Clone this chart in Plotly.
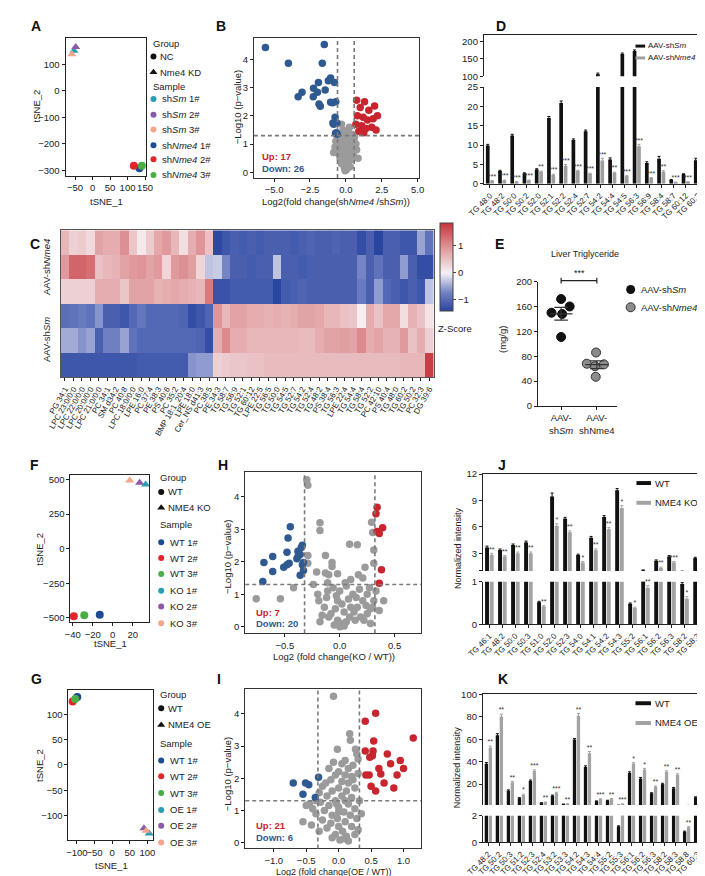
import plotly.graph_objects as go

W, H = 705, 876
FONT = "Liberation Sans, Arial, Helvetica, sans-serif"
INK = "#222222"

TEAL, PURPLE, SALMON = "#2a9db3", "#8a5aa6", "#f4a68c"
NAVY, RED, GREEN = "#1f4b93", "#e3242b", "#4aae47"
VBLUE, VRED, VGREY = "#2f5a91", "#c9252f", "#9b9b9b"

# ---------------- data ----------------
# A  (t-SNE, Nme4 knock-down)
a_samples = ["sh<i>Sm</i> 1#", "sh<i>Sm</i> 2#", "sh<i>Sm</i> 3#",
             "sh<i>Nme4</i> 1#", "sh<i>Nme4</i> 2#", "sh<i>Nme4</i> 3#"]
a_tsne1 = [-53, -48, -59, 134, 118, 141]
a_tsne2 = [151, 165, 138, -292, -283, -283]

# F  (t-SNE, NME4 KO)
f_samples = ["WT 1#", "WT 2#", "WT 3#", "KO 1#", "KO 2#", "KO 3#"]
f_tsne1 = [-13, -39, -28.5, 33, 27, 17]
f_tsne2 = [-476, -488, -481, 464, 476, 493]

# G  (t-SNE, NME4 OE)
g_samples = ["WT 1#", "WT 2#", "WT 3#", "OE 1#", "OE 2#", "OE 3#"]
g_tsne1 = [-99, -112, -105, 105, 90, 96]
g_tsne2 = [134, 125, 130, -135, -125, -130]

# B volcano (log2FC, -log10 p)
b_down = [(-5.6, 4.42), (-4.0, 3.86), (-1.5, 4.53), (-1.64, 3.86), (-3.05, 2.84), (-3.32, 2.68),
          (-2.25, 2.98), (-1.91, 3.18), (-1.98, 2.84), (-2.27, 2.68), (-1.87, 2.42), (-1.78, 2.34),
          (-1.44, 2.92), (-1.22, 3.24), (-1.06, 3.34), (-0.79, 3.18), (-1.06, 2.48), (-0.93, 2.46),
          (-0.7, 2.5), (-0.75, 1.95), (-0.9, 1.75), (-0.85, 1.7), (-0.65, 1.4), (-0.6, 1.35),
          (-0.72, 1.38), (-0.62, 1.75)]
b_up = [(0.75, 2.55), (1.0, 2.3), (1.3, 2.5), (1.6, 2.2), (2.0, 2.35), (0.8, 2.0), (1.2, 1.95),
        (1.5, 1.85), (1.9, 1.9), (2.2, 2.0), (0.7, 1.7), (1.1, 1.65), (1.4, 1.55), (1.8, 1.6),
        (0.9, 1.45), (1.25, 1.4), (2.1, 1.5)]
b_ns = [(-0.05, 0.05), (0.05, 0.1), (-0.1, 0.15), (0.1, 0.2), (0.0, 0.25), (-0.15, 0.3), (0.15, 0.35),
        (-0.2, 0.4), (0.2, 0.45), (-0.25, 0.5), (0.25, 0.55), (-0.3, 0.6), (0.3, 0.65), (-0.35, 0.7),
        (0.35, 0.75), (-0.4, 0.8), (0.4, 0.85), (-0.45, 0.9), (0.45, 0.95), (-0.5, 1.0), (0.5, 1.05),
        (-0.55, 1.1), (0.55, 1.15), (-0.6, 1.2), (0.6, 1.25), (-0.1, 0.6), (0.12, 0.7), (-0.22, 0.8),
        (0.28, 0.9), (-0.33, 1.0), (0.38, 1.1), (-0.42, 1.2), (0.48, 1.25), (-0.7, 1.1), (0.7, 1.0),
        (-0.75, 0.9), (0.75, 0.8), (-0.3, 0.3), (0.3, 0.2), (-0.18, 1.1), (0.2, 1.2), (-0.08, 0.9),
        (0.06, 1.0), (-0.4, 0.5), (0.42, 0.45), (-0.5, 0.65), (0.52, 0.6), (-0.85, 0.7), (0.85, 0.5),
        (-0.35, 1.25), (0.1, 1.28), (0.0, 0.55), (-0.2, 1.5), (0.25, 1.6), (-0.1, 1.4), (0.15, 1.45),
        (-0.3, 1.7), (0.4, 1.35)]

# H volcano
h_down = [(-0.69, 1.98), (-0.70, 1.39), (-0.61, 2.16), (-0.61, 1.70), (-0.45, 3.08), (-0.47, 2.73),
          (-0.48, 2.29), (-0.51, 1.83), (-0.48, 1.91), (-0.46, 1.95), (-0.38, 2.16), (-0.38, 2.32),
          (-0.35, 2.44), (-0.34, 2.51), (-0.36, 2.22), (-0.34, 1.91), (-0.36, 1.58), (-0.33, 1.73),
          (-0.33, 1.98), (-0.39, 2.09)]
h_up = [(0.34, 3.68), (0.33, 3.48), (0.34, 2.93), (0.36, 2.87), (0.39, 3.05), (0.38, 1.75), (0.36, 1.34)]
h_ns = [(-0.30, 4.53), (-0.29, 4.36), (-0.76, 0.86), (-0.54, 0.86), (-0.42, 1.2), (-0.18, 3.2),
        (-0.18, 2.96), (-0.29, 2.19), (-0.29, 1.95), (-0.13, 2.19), (-0.07, 1.98), (-0.07, 1.85),
        (-0.21, 1.68), (-0.13, 1.65), (-0.02, 1.63), (0.09, 2.54), (0.16, 2.52), (0.29, 3.22),
        (0.31, 2.36), (0.31, 1.95), (0.23, 1.83), (0.17, 1.6), (0.21, 1.5), (0.10, 1.45), (0.05, 1.35),
        (-0.11, 1.35), (-0.11, 1.1), (-0.20, 1.0), (-0.19, 0.8), (-0.14, 0.6), (-0.08, 0.4), (-0.02, 0.2),
        (0.02, 0.1), (0.06, 0.15), (0.09, 0.3), (0.13, 0.45), (0.16, 0.6), (0.21, 0.8), (0.25, 1.0),
        (0.27, 1.2), (0.22, 0.2), (0.25, 0.4), (0.31, 0.8), (0.40, 0.8), (-0.05, 0.05), (0.0, 0.0),
        (0.04, 0.02), (-0.1, 0.3), (-0.04, 0.55), (0.02, 0.7), (0.08, 0.85), (0.12, 1.0), (0.18, 1.15),
        (-0.03, 0.95), (-0.06, 1.2), (0.0, 1.1), (0.06, 1.25), (0.14, 0.2), (0.19, 0.3), (0.28, 0.55),
        (0.3, 0.6), (0.33, 1.1), (-0.16, 0.35), (-0.12, 0.9), (0.04, 0.45), (0.1, 0.6), (-0.02, 0.8),
        (0.15, 0.9), (0.24, 0.65), (-0.24, 1.3), (0.30, 2.9), (-0.1, 1.6), (0.36, 0.5), (-0.18, 0.15),
        (0.28, 0.1)]

# I volcano
i_down = [(-0.70, 1.85), (-0.51, 1.85), (-0.46, 1.8), (-0.55, 1.5), (-0.31, 2.03), (-0.36, 1.4)]
i_up = [(0.57, 4.02), (0.41, 3.77), (0.54, 3.16), (0.41, 2.85), (0.53, 2.85), (0.52, 2.7), (0.48, 2.65),
        (0.62, 2.3), (0.42, 2.1), (0.47, 2.1), (0.65, 2.13), (0.5, 1.75), (0.57, 1.6), (1.15, 3.25),
        (0.75, 2.75), (0.8, 2.45), (0.9, 2.1), (0.95, 2.55), (0.7, 1.85), (0.85, 1.7), (1.0, 2.3)]
i_ns = [(-0.08, 4.55), (0.17, 3.38), (0.18, 3.18), (-0.02, 2.9), (0.26, 2.9), (0.28, 2.75), (0.3, 2.6),
        (0.1, 2.55), (0.05, 2.45), (0.15, 2.3), (0.22, 2.4), (0.0, 2.2), (-0.05, 2.1), (0.1, 2.1),
        (0.2, 2.05), (-0.12, 1.95), (0.05, 1.9), (0.15, 1.85), (-0.2, 1.85), (-0.25, 1.75), (0.0, 1.7),
        (0.25, 1.7), (-0.1, 1.6), (0.12, 1.6), (-0.3, 1.55), (-0.18, 1.45), (0.05, 1.45), (0.2, 1.4),
        (-0.05, 1.3), (-0.28, 1.25), (0.15, 1.2), (-0.15, 1.15), (0.0, 1.1), (-0.4, 1.05), (0.25, 1.05),
        (-0.22, 1.0), (0.08, 0.95), (-0.35, 0.9), (-0.1, 0.85), (0.18, 0.85), (-0.02, 0.75), (0.28, 0.75),
        (-0.25, 0.7), (0.1, 0.65), (-0.12, 0.6), (0.0, 0.5), (0.2, 0.5), (-0.18, 0.45), (0.06, 0.35),
        (-0.05, 0.25), (0.12, 0.2), (-0.1, 0.15), (0.02, 0.08), (0.08, 0.12), (-0.42, 0.55), (-0.5, 1.15),
        (-0.55, 0.65), (0.3, 0.4), (0.32, 1.3), (-0.3, 0.35), (0.35, 0.9), (0.15, 0.05), (-0.03, 1.2),
        (0.1, 1.3), (-0.15, 2.3), (0.22, 1.95), (-0.08, 2.5), (0.3, 2.15), (-0.35, 1.3), (-0.45, 1.2),
        (0.0, 0.95), (0.25, 0.25)]

# C heatmap (z-score), rows top -> bottom
c_lipids = ["PG 34:1", "LPC 23:0/0:0", "LPC 22:0/0:0", "LPC 20:0/0:0", "LPC 21:0/0:0", "PC 34:1",
            "SM d34:2", "PC 40:8", "LPC 18:0/0:0", "LPE 16:0", "PC 37:4", "PE 38:3", "PS 40:6",
            "PC 35:2", "BMP 18:1_20:4", "LPE 18:0", "Cer_NS d41:3", "PC 38:5", "PE 34:3", "TG 58:7",
            "TG 56:9", "TG 52:1", "TG 60:12", "LPE 22:5", "TG 56:5", "TG 50:0", "TG 54:5", "TG 52:7",
            "TG 54:2", "TG 52:4", "TG 48:2", "PS 38:4", "TG 56:3", "LPE 22:4", "TG 54:4", "TG 58:4",
            "TG 52:2", "PC 42:10", "PS 40:4", "TG 48:0", "TG 60:2", "TG 50:2", "PC 32:3", "DG 39:6"]
c_row_nme4_1 = [0.6, 0.35, 0.4, 0.25, 0.8, 0.7, 0.7, 1.0, 0.45, 0.1, 0.4, 0.75, 0.9, 0.6, 0.2, 0.7, 0.95, 0.5,
                -1.35, -1.2, -1.1, -1.15, -1.1, -1.15, -1.1, -1.1, -1.1, -1.15, -1.1, -1.05, -1.1, -1.1,
                -1.05, -1.1, -1.1, -1.3, -1.1, -1.5, -1.1, -1.1, -1.2, -1.2, -0.5, -0.9]
c_row_nme4_2 = [0.9, 1.4, 1.4, 1.3, 0.5, 0.6, 0.65, 0.8, 0.9, 0.95, 0.8, 0.9, 0.3, 0.9, 1.0, 0.85, 0.3, -0.3,
                -0.25, -0.7, -1.1, -1.1, -1.15, -1.1, -1.1, -0.3, -1.1, -1.1, -1.15, -1.1, -1.1, -1.1,
                -1.1, -1.1, -1.1, -0.7, -1.1, -0.9, -1.1, -1.1, -0.55, -1.1, -1.3, -1.3]
c_row_nme4_3 = [0.35, 0.35, 0.35, 0.35, 0.7, 0.7, 0.7, 0.45, 0.8, 0.8, 0.8, 0.65, 0.7, 0.75, 0.7, 0.65, 0.6, 1.2,
                -1.25, -1.25, -1.15, -1.15, -1.15, -1.15, -1.15, -1.5, -1.15, -1.1, -1.05, -1.1, -1.1, -1.1,
                -1.1, -1.1, -1.1, -0.8, -1.1, -0.55, -1.0, -1.1, -1.2, -1.1, -1.2, -0.3]
c_row_sm_1 = [-0.95, -0.9, -0.8, -0.9, -0.6, -1.1, -1.1, -1.2, -1.0, -0.85, -1.0, -1.0, -1.0, -1.0, -1.05, -1.3,
              -1.2, -1.05, 0.95, 0.6, 0.8, 0.8, 0.7, 0.7, 0.65, 0.7, 0.65, 0.7, 0.8, 0.8, 0.75, 0.6, 0.6,
              0.5, 0.45, 0.05, 0.7, 0.5, 0.75, 0.75, 0.2, 0.65, 0.5, 0.15]
c_row_sm_2 = [-0.45, -0.45, -0.6, -0.5, -1.1, -0.75, -0.75, -0.5, -0.9, -1.0, -1.0, -1.0, -1.0, -1.0, -1.0,
              -1.0, -1.05, -1.3, 0.7, 1.05, 0.7, 0.7, 0.6, 0.6, 0.6, 0.6, 0.6, 0.6, 0.55, 0.55, 0.7, 0.8,
              0.8, 0.85, 0.8, 1.05, 0.7, 0.8, 0.65, 0.65, 0.9, 0.5, 0.7, 0.35]
c_row_sm_3 = [-1.2, -1.2, -1.2, -1.2, -1.2, -1.2, -1.2, -1.2, -1.2, -1.15, -1.15, -1.15, -1.15, -1.15, -1.15,
              -0.6, -0.55, -0.55, 0.35, 0.4, 0.45, 0.45, 0.5, 0.5, 0.55, 0.55, 0.55, 0.55, 0.55, 0.55, 0.55,
              0.55, 0.55, 0.55, 0.55, 0.55, 0.55, 0.55, 0.55, 0.55, 0.6, 0.6, 0.6, 1.75]

# D bars
d_lipids = ["TG 48:0", "TG 48:2", "TG 50:0", "TG 50:2", "TG 52:0", "TG 52:1", "TG 52:2", "TG 52:4", "TG 52:7",
            "TG 54:2", "TG 54:4", "TG 54:5", "TG 56:3", "TG 56:9", "TG 58:4", "TG 58:7", "TG 60:12", "TG 60:2"]
d_shsm = [9.9, 3.3, 12.5, 2.7, 3.7, 17.0, 20.9, 11.3, 13.6, 106, 6.3, 164, 173, 5.4, 6.5, 1.0, 2.5, 6.1]
d_shsm_err = [0.3, 0.2, 0.3, 0.15, 0.2, 0.4, 0.5, 0.3, 0.3, 3, 0.4, 3, 3, 0.3, 0.6, 0.1, 0.1, 0.5]
d_shnme4 = [0.76, 0.85, 0.5, 0.85, 3.1, 2.3, 4.7, 3.3, 2.6, 6.0, 2.8, 1.95, 9.7, 1.5, 3.1, 0.4, 0.5, 2.5]
d_shnme4_err = [0.1, 0.1, 0.05, 0.1, 0.2, 0.2, 0.3, 0.2, 0.15, 0.6, 0.2, 0.15, 0.5, 0.1, 0.3, 0.05, 0.05, 0.3]
d_stars = ["***", "***", "***", "***", "**", "***", "***", "***", "***", "***", "**", "***", "***", "***",
           "**", "***", "***", "**"]

# E liver TG
e_groups = ["AAV-<br>sh<i>Sm</i>", "AAV-<br>shNme4"]
e_shsm = [172, 160, 148, 150, 111]
e_shnme4 = [86, 68, 64, 67, 47]
e_jit_shsm = [0.0, 0.24, 0.03, -0.27, 0.0]
e_jit_shnme4 = [-0.02, -0.28, -0.05, 0.2, -0.03]

# J bars
j_lipids = ["TG 46:1", "TG 48:2", "TG 50:0", "TG 50:3", "TG 51:0", "TG 52:0", "TG 52:3", "TG 54:0", "TG 54:1",
            "TG 54:2", "TG 54:3", "TG 55:2", "TG 56:1", "TG 56:2", "TG 56:3", "TG 58:2", "TG 58:3"]
j_wt = [3.67, 3.37, 3.94, 4.24, 0.52, 9.45, 6.94, 2.8, 4.77, 7.13, 10.16, 0.48, 1.06, 2.15, 2.64, 0.95, 2.45]
j_wt_err = [0.15, 0.12, 0.12, 0.15, 0.02, 0.4, 0.15, 0.1, 0.15, 0.15, 0.2, 0.02, 0.05, 0.1, 0.1, 0.03, 0.1]
j_ko = [2.85, 2.63, 3.0, 3.0, 0.42, 6.12, 5.4, 1.96, 3.35, 5.74, 8.14, 0.38, 0.86, 1.33, 1.96, 0.6, 1.6]
j_ko_err = [0.15, 0.12, 0.15, 0.15, 0.02, 0.25, 0.15, 0.12, 0.15, 0.2, 0.3, 0.02, 0.05, 0.1, 0.1, 0.05, 0.1]
j_stars = ["**", "**", "**", "**", "**", "*", "**", "*", "**", "**", "*", "*", "**", "**", "***", "*", "**"]

# K bars
k_lipids = ["TG 48:2", "TG 50:2", "TG 50:3", "TG 51:2", "TG 52:3", "TG 52:4", "TG 53:2", "TG 53:3", "TG 54:2",
            "TG 54:3", "TG 54:4", "TG 55:2", "TG 55:3", "TG 56:1", "TG 56:2", "TG 56:3", "TG 58:2", "TG 58:3",
            "TG 58:8", "TG 60:3"]
k_wt = [38.2, 63.5, 14.1, 7.4, 22.9, 3.2, 9.7, 2.1, 59.7, 35.3, 4.7, 5.3, 1.2, 30.0, 25.0, 11.8, 20.0, 16.2,
        0.8, 8.2]
k_wt_err = [1, 1.5, 0.8, 0.6, 0.8, 0.3, 0.6, 0.2, 1, 1, 0.4, 0.4, 0.05, 1, 1, 0.6, 0.8, 0.8, 0.05, 0.5]
k_oe = [52.4, 80.3, 21.5, 10.3, 31.8, 3.8, 12.0, 2.4, 80.9, 47.6, 6.5, 6.8, 2.2, 38.2, 33.0, 17.6, 30.9, 28.2,
        1.13, 13.5]
k_oe_err = [1.5, 2, 1, 0.8, 1, 0.3, 0.8, 0.2, 2, 1.5, 0.5, 0.5, 0.2, 1, 1, 0.8, 1, 1, 0.05, 0.8]
k_stars = ["**", "**", "**", "*", "***", "**", "***", "**", "**", "**", "***", "**", "***", "*", "*", "**",
           "**", "**", "**", "*"]

# ---------------- figure ----------------
fig = go.Figure()
ann, shp = [], []
L = dict(width=W, height=H, margin=dict(l=0, r=0, t=0, b=0, pad=0), paper_bgcolor="white",
         plot_bgcolor="rgba(0,0,0,0)", showlegend=False, font=dict(family=FONT, size=9.5, color=INK))

TS = 9.5   # general text size
TK = 9.5   # tick label size


def dom(x0, x1, y0, y1):
    return dict(domain=[x0 / W, x1 / W]), dict(domain=[1 - y1 / H, 1 - y0 / H])


def ax(d, anchor, **kw):
    base = dict(anchor=anchor, showline=True, linecolor=INK, linewidth=1, ticks="outside", ticklen=3,
                tickwidth=1, tickcolor=INK, showgrid=False, zeroline=False, tickangle=0,
                tickfont=dict(size=TK, color=INK, family=FONT))
    base.update(d)
    base.update(kw)
    return base


def txt(x, y, s, size=TS, color=INK, xa="left", ya="middle", angle=0):
    ann.append(dict(x=x / W, y=1 - y / H, xref="paper", yref="paper", text=s, showarrow=False,
                    xanchor=xa, yanchor=ya, textangle=angle,
                    font=dict(size=size, color=color, family=FONT)))


def key(n):
    return "" if n == 1 else str(n)


# overlay axis in pixel units for legend glyphs
L["xaxis30"] = dict(domain=[0, 1], range=[0, W], visible=False, fixedrange=True, anchor="y30")
L["yaxis30"] = dict(domain=[0, 1], range=[H, 0], visible=False, fixedrange=True, anchor="x30")


def glyph(x, y, color, symbol="circle", size=6, lc=None):
    fig.add_trace(go.Scatter(x=[x], y=[y], mode="markers", xaxis="x30", yaxis="y30", hoverinfo="skip",
                             marker=dict(color=color, symbol=symbol, size=size,
                                         line=dict(width=1 if lc else 0, color=lc or color))))


# ---- t-SNE panels ----
def tsne(n, box, xr, xt, yr, yt, t1, t2, cols, syms):
    k = key(n)
    xd, yd = dom(*box)
    L["xaxis" + k] = ax(xd, "y" + k, range=xr, tickvals=xt, mirror=True)
    L["yaxis" + k] = ax(yd, "x" + k, range=yr, tickvals=yt, mirror=True)
    for i in range(len(t1)):
        fig.add_trace(go.Scatter(x=[t1[i]], y=[t2[i]], mode="markers", xaxis="x" + k, yaxis="y" + k,
                                 cliponaxis=False,
                                 marker=dict(color=cols[i], symbol=syms[i], size=8, line=dict(width=0))))


def tsne_legend(x, ys, groups, samples, cols):
    txt(x, ys[0], "Group")
    glyph(x + 3, ys[1], "#111", "circle", 6)
    txt(x + 8, ys[1], groups[0])
    glyph(x + 3, ys[2], "#111", "triangle-up", 7)
    txt(x + 8, ys[2], groups[1])
    txt(x, ys[3], "Sample")
    for i, s in enumerate(samples):
        glyph(x + 3, ys[4 + i], cols[i], "circle", 6)
        txt(x + 10, ys[4 + i], s)


tri3 = ["triangle-up"] * 3
cir3 = ["circle"] * 3
tsne(1, (42, 125, 24, 164), [-77, 152], [-50, 0, 50, 100, 150], [-321, 200], [-300, -200, -100, 0, 100],
     a_tsne1, a_tsne2, [TEAL, PURPLE, SALMON, NAVY, RED, GREEN], tri3 + cir3)
tsne_legend(130, [30, 43, 59, 73, 86, 102, 117, 133, 147, 163], ["NC", "Nme4 KD"], a_samples,
            [TEAL, PURPLE, SALMON, NAVY, RED, GREEN])
txt(84, 190, "tSNE_1", xa="center")
txt(12, 93, "tSNE_2", xa="center", angle=-90)

tsne(7, (47, 128, 467, 616), [-42.4, 36], [-40, -20, 0, 20], [-531, 531], [-500, -250, 0, 250, 500],
     f_tsne1, f_tsne2, [NAVY, RED, GREEN, TEAL, PURPLE, SALMON], cir3 + tri3)
tsne_legend(138, [469, 484, 500, 517, 535, 551, 567, 584, 600, 617], ["WT", "NME4 KO"], f_samples,
            [NAVY, RED, GREEN, TEAL, PURPLE, SALMON])
txt(88, 638, "tSNE_1", xa="center")
txt(15, 542, "tSNE_2", xa="center", angle=-90)

tsne(11, (45, 133, 685, 837), [-124, 117], [-100, -50, 0, 50, 100], [-149, 147], [-100, -50, 0, 50, 100],
     g_tsne1, g_tsne2, [NAVY, RED, GREEN, TEAL, PURPLE, SALMON], cir3 + tri3)
tsne_legend(138, [689, 703, 720, 739, 756, 772, 789, 806, 822, 839], ["WT", "NME4 OE"], g_samples,
            [NAVY, RED, GREEN, TEAL, PURPLE, SALMON])
txt(90, 862, "tSNE_1", xa="center")
txt(15, 761, "tSNE_2", xa="center", angle=-90)


# ---- volcano panels ----
def volcano(n, box, xr, xt, xtt, yr, ns, down, up, thr):
    k = str(n)
    xd, yd = dom(*box)
    L["xaxis" + k] = ax(xd, "y" + k, range=xr, tickvals=xt, ticktext=xtt, mirror=True, linecolor="#333")
    L["yaxis" + k] = ax(yd, "x" + k, range=yr, tickvals=[0, 1, 2, 3, 4], mirror=True, linecolor="#333")
    for pts, col in ((ns, VGREY), (down, VBLUE), (up, VRED)):
        fig.add_trace(go.Scatter(x=[p[0] for p in pts], y=[p[1] for p in pts], mode="markers",
                                 xaxis="x" + k, yaxis="y" + k,
                                 marker=dict(color=col, size=7.5, line=dict(width=0))))
    dash = dict(color="#7a7a7a", width=1.6, dash="4px,3px")
    shp.append(dict(type="line", xref="x" + k + " domain", yref="y" + k, x0=0, x1=1, y0=1.3, y1=1.3,
                    line=dash, layer="above"))
    for t in thr:
        shp.append(dict(type="line", xref="x" + k, yref="y" + k + " domain", x0=t, x1=t, y0=0, y1=1,
                        line=dash, layer="above"))


volcano(2, (237, 408, 24, 166), [-6.4, 5.1], [-5, -2.5, 0, 2.5, 5], ["\u22125.0", "\u22122.5", "0.0", "2.5", "5.0"],
        [-0.2, 4.77], b_ns, b_down, b_up, [-0.58, 0.58])
txt(243, 144, "<b>Up: %d</b>" % len(b_up), TS, VRED)
txt(243, 156, "<b>Down: %d</b>" % len(b_down), TS, VBLUE)
txt(322, 190, "Log2(fold change(sh<i>Nme4</i> /sh<i>Sm</i>))", xa="center")
txt(220, 95, "\u2212Log10 (p\u2212value)", xa="center", angle=-90)

volcano(8, (228, 410, 464, 627), [-0.86, 0.74], [-0.5, 0, 0.5], ["\u22120.5", "0.0", "0.5"],
        [-0.2, 4.76], h_ns, h_down, h_up, [-0.32, 0.32])
txt(237, 606, "<b>Up: %d</b>" % len(h_up), TS, VRED)
txt(237, 617, "<b>Down: %d</b>" % len(h_down), TS, VBLUE)
txt(320, 651, "Log2 (fold change(KO / WT))", xa="center")
txt(209, 550, "\u2212Log10 (p\u2212value)", xa="center", angle=-90)

volcano(12, (228, 410, 684, 845), [-1.44, 1.27], [-1, -0.5, 0, 0.5, 1], ["\u22121.0", "\u22120.5", "0.0", "0.5", "1.0"],
        [-0.18, 4.76], i_ns, i_down, i_up, [-0.32, 0.32])
txt(237, 822, "<b>Up: %d</b>" % len(i_up), TS, VRED)
txt(237, 834, "<b>Down: %d</b>" % len(i_down), TS, VBLUE)
txt(320, 869, "Log2 (fold change(OE / WT))", 9, xa="center")
txt(209, 770, "\u2212Log10 (p\u2212value)", xa="center", angle=-90)


# ---- broken-axis bar panels ----
def bars(nu, nl, boxu, boxl, cats, v1, e1, v2, e2, stars, yru, ytu, yttu, yrl, ytl, yttl, c2, angle=-45):
    idx = list(range(len(cats)))
    xr = [-0.5, len(cats) - 0.5]
    xdu, ydu = dom(*boxu)
    xdl, ydl = dom(*boxl)
    L["xaxis" + nu] = ax(xdu, "y" + nu, range=xr, side="top", ticks="", showticklabels=False)
    L["yaxis" + nu] = ax(ydu, "x" + nu, range=yru, tickvals=ytu, ticktext=yttu, mirror=True)
    L["xaxis" + nl] = ax(xdl, "y" + nl, range=xr, tickvals=idx, ticktext=cats, tickangle=angle,
                         tickfont=dict(size=8, family=FONT, color=INK))
    L["yaxis" + nl] = ax(ydl, "x" + nl, range=yrl, tickvals=ytl, ticktext=yttl, mirror=True)
    for n in (nu, nl):
        fig.add_trace(go.Bar(x=idx, y=v1, width=0.3, offset=-0.33, xaxis="x" + n, yaxis="y" + n,
                             marker=dict(color="#111111", line=dict(width=0)),
                             error_y=dict(type="data", array=e1, color="#111111", thickness=1, width=1.5)))
        fig.add_trace(go.Bar(x=idx, y=v2, width=0.3, offset=0.03, xaxis="x" + n, yaxis="y" + n,
                             marker=dict(color=c2, line=dict(width=0)),
                             error_y=dict(type="data", array=e2, color=c2, thickness=1, width=1.5)))
    for n, sel in ((nu, [i for i in idx if v2[i] > yrl[1]]), (nl, [i for i in idx if v2[i] <= yrl[1]])):
        if sel:
            fig.add_trace(go.Scatter(x=[i + 0.18 for i in sel], y=[v2[i] + e2[i] for i in sel],
                                     text=[stars[i] for i in sel], mode="text", textposition="top center",
                                     textfont=dict(size=7, color="#333"), cliponaxis=False,
                                     xaxis="x" + n, yaxis="y" + n))
    shp.append(dict(type="line", xref="paper", yref="paper", x0=boxu[1] / W, x1=boxu[1] / W,
                    y0=1 - boxu[3] / H, y1=1 - boxl[2] / H, line=dict(color=INK, width=1)))


bars("3", "4", (475, 703, 21, 63), (475, 703, 74, 172), d_lipids, d_shsm, d_shsm_err, d_shnme4,
     d_shnme4_err, d_stars, [100, 220], [100, 150, 200], ["100", "150", "200"],
     [0, 25], [0, 5, 10, 15, 20, 25], ["0", "5", "10", "15", "20", "25"], "#9e9e9e")
shp.append(dict(type="rect", xref="paper", yref="paper", x0=632 / W, x1=642 / W, y0=1 - 34 / H, y1=1 - 31 / H,
                fillcolor="#111", line=dict(width=0)))
shp.append(dict(type="rect", xref="paper", yref="paper", x0=632 / W, x1=642 / W, y0=1 - 46 / H, y1=1 - 43 / H,
                fillcolor="#9e9e9e", line=dict(width=0)))
txt(643, 32, "AAV-sh<i>Sm</i>", 8)
txt(643, 44, "AAV-sh<i>Nme4</i>", 8)

bars("9", "10", (474, 703, 466, 564), (474, 703, 575, 618), j_lipids, j_wt, j_wt_err, j_ko, j_ko_err,
     j_stars, [1, 12], [1, 3, 6, 9, 12], ["", "3", "6", "9", "12"], [0, 1], [0, 1], ["0", "1"], "#a3a3a3")
shp.append(dict(type="rect", xref="paper", yref="paper", x0=633 / W, x1=648 / W, y0=1 - 477 / H, y1=1 - 473 / H,
                fillcolor="#111", line=dict(width=0)))
shp.append(dict(type="rect", xref="paper", yref="paper", x0=633 / W, x1=648 / W, y0=1 - 497 / H, y1=1 - 493 / H,
                fillcolor="#a3a3a3", line=dict(width=0)))
txt(650, 475, "WT", 9.5)
txt(650, 495, "NME4 KO", 9.5)
txt(448, 541, "Normalized intensity", 9, xa="center", angle=-90)

bars("13", "14", (474, 702, 689, 801), (474, 702, 812, 839), k_lipids, k_wt, k_wt_err, k_oe, k_oe_err,
     k_stars, [1.5, 100], [20, 40, 60, 80, 100], ["20", "40", "60", "80", "100"], [0, 2], [0, 2],
     ["0", "2"], "#a3a3a3")
shp.append(dict(type="rect", xref="paper", yref="paper", x0=632 / W, x1=648 / W, y0=1 - 700 / H, y1=1 - 696 / H,
                fillcolor="#111", line=dict(width=0)))
shp.append(dict(type="rect", xref="paper", yref="paper", x0=632 / W, x1=648 / W, y0=1 - 720 / H, y1=1 - 716 / H,
                fillcolor="#a3a3a3", line=dict(width=0)))
txt(650, 698, "WT", 9.5)
txt(650, 718, "NME4 OE", 9.5)
txt(448, 763, "Normalized intensity", 9, xa="center", angle=-90)

# ---- C heatmap ----
c_rows = [c_row_nme4_1, c_row_nme4_2, c_row_nme4_3, c_row_sm_1, c_row_sm_2, c_row_sm_3]
zmin, zmax = -1.4, 1.85
mid = -zmin / (zmax - zmin)
cscale = [[0, "#2a45a0"], [mid * 0.5, "#7484c4"], [mid, "#f6f2f5"], [mid + (1 - mid) * 0.55, "#dd8e91"],
          [1, "#c4343a"]]
xd, yd = dom(37, 423, 219, 368)
L["xaxis5"] = ax(xd, "y5", tickangle=-60, tickfont=dict(size=8, family=FONT, color=INK), mirror=True,
                 linecolor="#555", type="category", tickmode="array", tickvals=c_lipids, ticktext=c_lipids)
L["yaxis5"] = ax(yd, "x5", autorange="reversed", showticklabels=False, ticks="", mirror=True,
                 linecolor="#555")
fig.add_trace(go.Heatmap(z=c_rows, x=c_lipids, y=list(range(len(c_rows))), xaxis="x5", yaxis="y5",
                         zmin=zmin, zmax=zmax, colorscale=cscale, xgap=0, ygap=0,
                         colorbar=dict(x=430 / W, xanchor="left", y=1 - 256 / H, yanchor="middle",
                                       len=88, lenmode="pixels", thickness=13, thicknessmode="pixels",
                                       tickvals=[-1, 0, 1], ticks="outside", ticklen=3, xpad=0, ypad=0,
                                       outlinewidth=1, outlinecolor="#444",
                                       tickfont=dict(size=TK, family=FONT, color=INK))))
txt(23, 256, "AAV-sh<i>Nme4</i>", xa="center", angle=-90)
txt(23, 330, "AAV-sh<i>Sm</i>", xa="center", angle=-90)
txt(425, 319, "Z-Score")

# ---- E dot plot ----
xd, yd = dom(531, 613, 271, 397)
L["xaxis6"] = ax(xd, "y6", range=[-0.65, 1.57], tickvals=[0, 1], ticktext=e_groups)
L["yaxis6"] = ax(yd, "x6", range=[0, 200], tickvals=[0, 40, 80, 120, 160, 200])
for gi, (vals, jit, col, lc) in enumerate(((e_shsm, e_jit_shsm, "#111111", "#111111"),
                                           (e_shnme4, e_jit_shnme4, "#8c8c8c", "#333333"))):
    m = sum(vals) / len(vals)
    sd = (sum((v - m) ** 2 for v in vals) / (len(vals) - 1)) ** 0.5
    se = sd / len(vals) ** 0.5
    fig.add_trace(go.Scatter(x=[gi + j for j in jit], y=vals, mode="markers", xaxis="x6", yaxis="y6",
                             cliponaxis=False, marker=dict(color=col, size=9, line=dict(color=lc, width=1))))
    fig.add_trace(go.Scatter(x=[gi - 0.32, gi + 0.32, None, gi, gi, None, gi - 0.19, gi + 0.19, None,
                                gi - 0.19, gi + 0.19],
                             y=[m, m, None, m - se, m + se, None, m + se, m + se, None, m - se, m - se],
                             mode="lines", line=dict(color="#333", width=1.2), xaxis="x6", yaxis="y6",
                             cliponaxis=False))
shp.append(dict(type="line", xref="paper", yref="paper", x0=555 / W, x1=592 / W, y0=1 - 270 / H, y1=1 - 270 / H,
                line=dict(color="#222", width=1.2)))
for xb in (555, 592):
    shp.append(dict(type="line", xref="paper", yref="paper", x0=xb / W, x1=xb / W, y0=1 - 267 / H,
                    y1=1 - 273 / H, line=dict(color="#222", width=1.2)))
txt(574, 262, "***", 9, xa="center")
txt(580, 243, "Liver Triglyceride", 9, xa="center")
txt(495, 330, "(mg/g)", xa="center", angle=-90)
glyph(627, 279, "#111111", "circle", 9)
glyph(627, 297, "#8c8c8c", "circle", 9, "#333")
txt(636, 279, "AAV-sh<i>Sm</i>")
txt(636, 297, "AAV-sh<i>Nme4</i>")

# ---- panel letters ----
for s, x, y in (("A", 4, 2), ("B", 196, 2), ("D", 486, 2), ("C", 3, 223), ("E", 484, 223), ("F", 3, 447),
                ("H", 198, 447), ("J", 488, 447), ("G", 4, 663), ("I", 197, 663), ("K", 488, 663)):
    txt(x, y, "<b>%s</b>" % s, 14, "#111", ya="top")

L["annotations"] = ann
L["shapes"] = shp
fig.update_layout(**L)
fig.write_html("out.html")
